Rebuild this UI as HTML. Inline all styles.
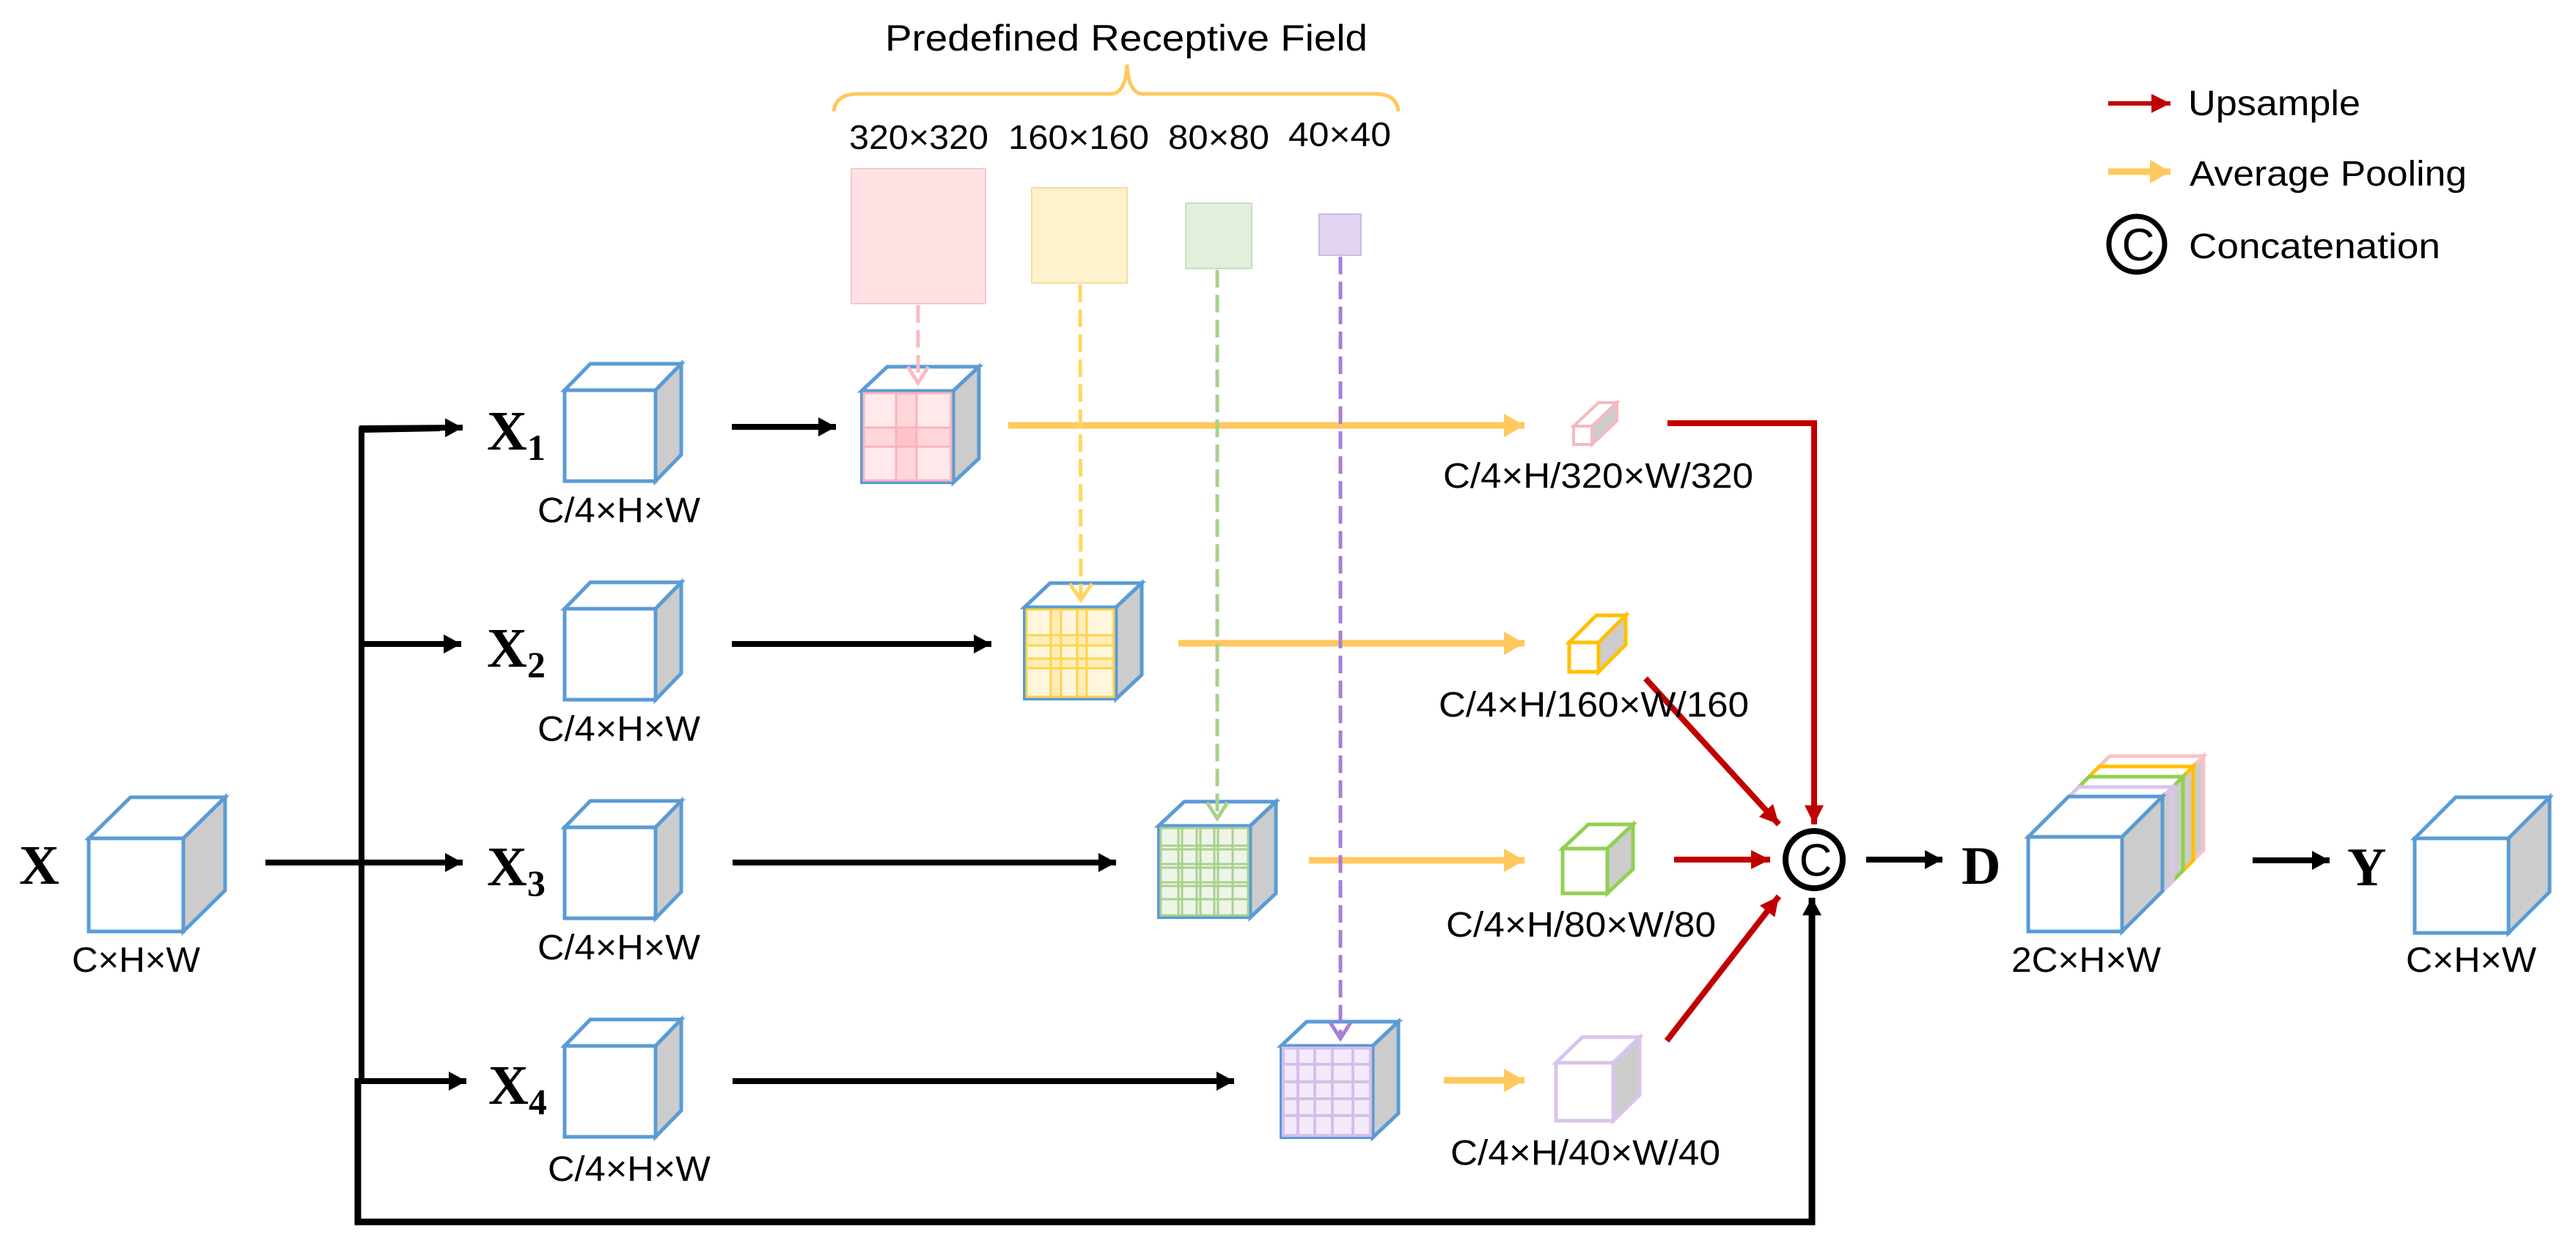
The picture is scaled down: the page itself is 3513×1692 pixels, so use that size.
<!DOCTYPE html>
<html><head><meta charset="utf-8"><style>
html,body{margin:0;padding:0;background:#fff;}
svg{display:block;}
text{font-family:"Liberation Sans",sans-serif;fill:#000;}
.serif{font-family:"Liberation Serif",serif;font-weight:bold;}
</style></head><body>
<svg width="3513" height="1692" viewBox="0 0 3513 1692" xmlns="http://www.w3.org/2000/svg">
<defs>
<marker id="ab" markerUnits="userSpaceOnUse" markerWidth="24" markerHeight="26" refX="24" refY="13" orient="auto"><path d="M0,0 L24,13 L0,26 z" fill="#000"/></marker>
<marker id="ay" markerUnits="userSpaceOnUse" markerWidth="28" markerHeight="32" refX="28" refY="16" orient="auto"><path d="M0,0 L28,16 L0,32 z" fill="#FFC85F"/></marker>
<marker id="ar" markerUnits="userSpaceOnUse" markerWidth="26" markerHeight="26" refX="26" refY="13" orient="auto"><path d="M0,0 L26,13 L0,26 z" fill="#C00000"/></marker>
</defs>
<g fill="none" stroke-linejoin="miter">

<path d="M1137,152 Q1140,128 1170,128 L1515,128 Q1535,128 1537,88 Q1539,128 1559,128 L1875,128 Q1905,128 1907,152" stroke="#FFC85F" stroke-width="5"/>

<rect x="1161" y="230" width="183" height="184" fill="#FFE1E4" stroke="#F6C7CB" stroke-width="2"/>
<rect x="1407" y="256" width="130" height="130" fill="#FFF2CC" stroke="#F2DDA0" stroke-width="2"/>
<rect x="1617" y="277" width="90" height="89" fill="#E2EFDA" stroke="#CADDBD" stroke-width="2"/>
<rect x="1799" y="292" width="57" height="56" fill="#E2D4F1" stroke="#CDB8E3" stroke-width="2"/>

<path d="M362,1176 L493,1176" stroke="#000" stroke-width="8"/>
<path d="M493,1474 L493,586 L600,584" stroke="#000" stroke-width="8"/>
<path d="M490,584 L631,583" stroke="#000" stroke-width="8" marker-end="url(#ab)"/>
<path d="M493,878 L629,878" stroke="#000" stroke-width="8" marker-end="url(#ab)"/>
<path d="M493,1176 L631,1176" stroke="#000" stroke-width="8" marker-end="url(#ab)"/>
<path d="M488,1474 L636,1474" stroke="#000" stroke-width="8" marker-end="url(#ab)"/>
<path d="M488,1470 L488,1666 L2471,1666 L2471,1224" stroke="#000" stroke-width="9" marker-end="url(#ab)"/>

<path d="M998,582 L1140,582" stroke="#000" stroke-width="8" marker-end="url(#ab)"/>
<path d="M998,878 L1352,878" stroke="#000" stroke-width="8" marker-end="url(#ab)"/>
<path d="M999,1176 L1522,1176" stroke="#000" stroke-width="8" marker-end="url(#ab)"/>
<path d="M999,1474 L1683,1474" stroke="#000" stroke-width="8" marker-end="url(#ab)"/>

<path d="M1375,580 L2079,580" stroke="#FFC85F" stroke-width="9" marker-end="url(#ay)"/>
<path d="M1607,877 L2079,877" stroke="#FFC85F" stroke-width="9" marker-end="url(#ay)"/>
<path d="M1785,1173 L2079,1173" stroke="#FFC85F" stroke-width="9" marker-end="url(#ay)"/>
<path d="M1969,1473 L2079,1473" stroke="#FFC85F" stroke-width="9" marker-end="url(#ay)"/>

<polygon points="121,1143 178,1087 307,1087 250,1143" fill="#fff" stroke="#5B9BD5" stroke-width="5"/>
<polygon points="250,1143 307,1087 307,1214 250,1270" fill="#CCCCCC" stroke="#5B9BD5" stroke-width="5"/>
<rect x="121" y="1143" width="129" height="127" fill="#fff" stroke="#5B9BD5" stroke-width="5"/>

<polygon points="770,532 805,496 929,496 894,532" fill="#fff" stroke="#5B9BD5" stroke-width="5"/>
<polygon points="894,532 929,496 929,620 894,656" fill="#CCCCCC" stroke="#5B9BD5" stroke-width="5"/>
<rect x="770" y="532" width="124" height="124" fill="#fff" stroke="#5B9BD5" stroke-width="5"/>
<polygon points="770,830 805,794 929,794 894,830" fill="#fff" stroke="#5B9BD5" stroke-width="5"/>
<polygon points="894,830 929,794 929,918 894,954" fill="#CCCCCC" stroke="#5B9BD5" stroke-width="5"/>
<rect x="770" y="830" width="124" height="124" fill="#fff" stroke="#5B9BD5" stroke-width="5"/>
<polygon points="770,1128 805,1092 929,1092 894,1128" fill="#fff" stroke="#5B9BD5" stroke-width="5"/>
<polygon points="894,1128 929,1092 929,1216 894,1252" fill="#CCCCCC" stroke="#5B9BD5" stroke-width="5"/>
<rect x="770" y="1128" width="124" height="124" fill="#fff" stroke="#5B9BD5" stroke-width="5"/>
<polygon points="770,1426 805,1390 929,1390 894,1426" fill="#fff" stroke="#5B9BD5" stroke-width="5"/>
<polygon points="894,1426 929,1390 929,1514 894,1550" fill="#CCCCCC" stroke="#5B9BD5" stroke-width="5"/>
<rect x="770" y="1426" width="124" height="124" fill="#fff" stroke="#5B9BD5" stroke-width="5"/>

<polygon points="1175,533 1210,500 1335,500 1300,533" fill="#fff" stroke="#5B9BD5" stroke-width="5"/>
<polygon points="1300,533 1335,500 1335,625 1300,658" fill="#CCCCCC" stroke="#5B9BD5" stroke-width="5"/>
<rect x="1175" y="533" width="125" height="125" fill="#FFE9EB" stroke="#5B9BD5" stroke-width="4"/>
<rect x="1222" y="536" width="28" height="119" fill="#FFD6DA"/>
<rect x="1178" y="583" width="119" height="26" fill="#FFD6DA"/>
<rect x="1222" y="583" width="28" height="26" fill="#FFC4C9"/>
<g stroke="#F8B4BC" stroke-width="3"><path d="M1222,536 V655 M1250,536 V655 M1178,583 H1297 M1178,609 H1297"/><rect x="1178" y="536" width="119" height="119"/></g>

<polygon points="1397,828 1432,795 1557,795 1522,828" fill="#fff" stroke="#5B9BD5" stroke-width="5"/>
<polygon points="1522,828 1557,795 1557,920 1522,953" fill="#CCCCCC" stroke="#5B9BD5" stroke-width="5"/>
<rect x="1397" y="828" width="125" height="125" fill="#FFF6DC" stroke="#5B9BD5" stroke-width="4"/>
<g fill="#FFEDB8"><rect x="1433" y="831" width="14" height="119"/><rect x="1469" y="831" width="13" height="119"/><rect x="1400" y="866" width="119" height="14"/><rect x="1400" y="898" width="119" height="13"/></g>
<g stroke="#FFD34D" stroke-width="3"><path d="M1433,831 V950 M1447,831 V950 M1469,831 V950 M1482,831 V950 M1400,866 H1519 M1400,880 H1519 M1400,898 H1519 M1400,911 H1519"/><rect x="1400" y="831" width="119" height="119"/></g>

<polygon points="1580,1126 1615,1093 1740,1093 1705,1126" fill="#fff" stroke="#5B9BD5" stroke-width="5"/>
<polygon points="1705,1126 1740,1093 1740,1218 1705,1251" fill="#CCCCCC" stroke="#5B9BD5" stroke-width="5"/>
<rect x="1580" y="1126" width="125" height="125" fill="#EEF5E8" stroke="#5B9BD5" stroke-width="4"/>
<g stroke="#A9D18E" stroke-width="3"><path d="M1607,1129 V1248 M1612,1129 V1248 M1632,1129 V1248 M1637,1129 V1248 M1656,1129 V1248 M1661,1129 V1248 M1681,1129 V1248 M1583,1153 H1702 M1583,1158 H1702 M1583,1178 H1702 M1583,1183 H1702 M1583,1203 H1702 M1583,1208 H1702 M1583,1226 H1702"/><rect x="1583" y="1129" width="119" height="119"/></g>

<polygon points="1747,1426 1782,1393 1907,1393 1872,1426" fill="#fff" stroke="#5B9BD5" stroke-width="5"/>
<polygon points="1872,1426 1907,1393 1907,1518 1872,1551" fill="#CCCCCC" stroke="#5B9BD5" stroke-width="5"/>
<rect x="1747" y="1426" width="125" height="125" fill="#F2EAFA" stroke="#5B9BD5" stroke-width="4"/>
<g stroke="#D8BDEB" stroke-width="4"><path d="M1770,1429 V1548 M1793,1429 V1548 M1817,1429 V1548 M1845,1429 V1548 M1750,1451 H1869 M1750,1475 H1869 M1750,1498 H1869 M1750,1521 H1869"/><rect x="1750" y="1429" width="119" height="119"/></g>

<!-- dashed (on top) -->
<path d="M1252,416 L1252,520" stroke="#F8BCC2" stroke-width="5" stroke-dasharray="24,10"/>
<path d="M1238,500 L1252,522 L1266,500" stroke="#F8BCC2" stroke-width="5"/>
<path d="M1473,388 L1474,814" stroke="#FFD75F" stroke-width="5" stroke-dasharray="24,10"/>
<path d="M1459,796 L1474,818 L1489,796" stroke="#FFD75F" stroke-width="5"/>
<path d="M1660,368 L1660,1112" stroke="#A9D18E" stroke-width="5" stroke-dasharray="24,10"/>
<path d="M1646,1094 L1660,1116 L1674,1094" stroke="#A9D18E" stroke-width="5"/>
<path d="M1828,350 L1828,1412" stroke="#A97CD8" stroke-width="5" stroke-dasharray="24,10"/>
<path d="M1814,1394 L1828,1416 L1842,1394" stroke="#A97CD8" stroke-width="5"/>

<polygon points="2146,581 2180,549 2205,549 2171,581" fill="#fff" stroke="#F6B9BE" stroke-width="4"/>
<polygon points="2171,581 2205,549 2205,574 2171,606" fill="#CCCCCC" stroke="#F6B9BE" stroke-width="4"/>
<rect x="2146" y="581" width="25" height="25" fill="#fff" stroke="#F6B9BE" stroke-width="4"/>

<polygon points="2140,876 2177,839 2217,839 2180,876" fill="#fff" stroke="#FFC000" stroke-width="5"/>
<polygon points="2180,876 2217,839 2217,879 2180,916" fill="#CCCCCC" stroke="#FFC000" stroke-width="5"/>
<rect x="2140" y="876" width="40" height="40" fill="#fff" stroke="#FFC000" stroke-width="5"/>

<polygon points="2131,1157 2166,1124 2227,1124 2192,1157" fill="#fff" stroke="#92D050" stroke-width="5"/>
<polygon points="2192,1157 2227,1124 2227,1185 2192,1218" fill="#CCCCCC" stroke="#92D050" stroke-width="5"/>
<rect x="2131" y="1157" width="61" height="61" fill="#fff" stroke="#92D050" stroke-width="5"/>

<polygon points="2122,1449 2158,1414 2236,1414 2200,1449" fill="#fff" stroke="#DAC4EA" stroke-width="5"/>
<polygon points="2200,1449 2236,1414 2236,1493 2200,1528" fill="#CCCCCC" stroke="#DAC4EA" stroke-width="5"/>
<rect x="2122" y="1449" width="78" height="79" fill="#fff" stroke="#DAC4EA" stroke-width="5"/>

<path d="M2274,577 L2474,577 L2474,1124" stroke="#C00000" stroke-width="8" marker-end="url(#ar)"/>
<path d="M2244,925 L2426,1124" stroke="#C00000" stroke-width="8" marker-end="url(#ar)"/>
<path d="M2283,1172 L2414,1172" stroke="#C00000" stroke-width="8" marker-end="url(#ar)"/>
<path d="M2273,1419 L2426,1222" stroke="#C00000" stroke-width="8" marker-end="url(#ar)"/>

<circle cx="2474" cy="1172" r="39" stroke="#000" stroke-width="8" fill="#fff"/>
<path d="M2545,1172 L2649,1172" stroke="#000" stroke-width="8" marker-end="url(#ab)"/>

<polygon points="2822,1086 2877,1031 3005,1031 2950,1086" fill="#fff" stroke="#F8C3C7" stroke-width="5"/>
<polygon points="2950,1086 3005,1031 3005,1159 2950,1214" fill="#CCCCCC" stroke="#F8C3C7" stroke-width="5"/>
<polygon points="2808,1100 2863,1045 2991,1045 2936,1100" fill="#fff" stroke="#FFC000" stroke-width="5"/>
<polygon points="2936,1100 2991,1045 2991,1173 2936,1228" fill="#CCCCCC" stroke="#FFC000" stroke-width="5"/>
<polygon points="2794,1114 2849,1059 2977,1059 2922,1114" fill="#fff" stroke="#92D050" stroke-width="5"/>
<polygon points="2922,1114 2977,1059 2977,1187 2922,1242" fill="#CCCCCC" stroke="#92D050" stroke-width="5"/>
<polygon points="2780,1128 2835,1073 2963,1073 2908,1128" fill="#fff" stroke="#DAC4EA" stroke-width="5"/>
<polygon points="2908,1128 2963,1073 2963,1201 2908,1256" fill="#CCCCCC" stroke="#DAC4EA" stroke-width="5"/>
<polygon points="2766,1141 2821,1086 2949,1086 2894,1141" fill="#fff" stroke="#5B9BD5" stroke-width="5"/>
<polygon points="2894,1141 2949,1086 2949,1215 2894,1270" fill="#CCCCCC" stroke="#5B9BD5" stroke-width="5"/>
<rect x="2766" y="1141" width="128" height="129" fill="#fff" stroke="#5B9BD5" stroke-width="5"/>

<path d="M3072,1173 L3177,1173" stroke="#000" stroke-width="8" marker-end="url(#ab)"/>

<polygon points="3293,1143 3349,1087 3477,1087 3421,1143" fill="#fff" stroke="#5B9BD5" stroke-width="5"/>
<polygon points="3421,1143 3477,1087 3477,1216 3421,1272" fill="#CCCCCC" stroke="#5B9BD5" stroke-width="5"/>
<rect x="3293" y="1143" width="128" height="129" fill="#fff" stroke="#5B9BD5" stroke-width="5"/>

<path d="M2875,141 L2960,141" stroke="#C00000" stroke-width="6" marker-end="url(#ar)"/>
<path d="M2875,234 L2960,234" stroke="#FFC85F" stroke-width="9" marker-end="url(#ay)"/>
<circle cx="2914" cy="333" r="38" stroke="#000" stroke-width="7" fill="#fff"/>
</g>

<text x="1207" y="69" font-size="50" textLength="658" lengthAdjust="spacingAndGlyphs">Predefined Receptive Field</text>
<text x="1158" y="203" font-size="46" textLength="190" lengthAdjust="spacingAndGlyphs">320×320</text>
<text x="1375" y="203" font-size="46" textLength="192" lengthAdjust="spacingAndGlyphs">160×160</text>
<text x="1593" y="203" font-size="46" textLength="138" lengthAdjust="spacingAndGlyphs">80×80</text>
<text x="1757" y="199" font-size="46" textLength="140" lengthAdjust="spacingAndGlyphs">40×40</text>

<text x="2984" y="157" font-size="48" textLength="235" lengthAdjust="spacingAndGlyphs">Upsample</text>
<text x="2986" y="253" font-size="48" textLength="378" lengthAdjust="spacingAndGlyphs">Average Pooling</text>
<text x="2985" y="352" font-size="48" textLength="343" lengthAdjust="spacingAndGlyphs">Concatenation</text>
<text x="2916" y="355" font-size="62" text-anchor="middle">C</text>
<text x="2476" y="1194" font-size="62" text-anchor="middle">C</text>

<text class="serif" x="26" y="1205" font-size="76">X</text>
<text class="serif" x="664" y="613" font-size="76">X<tspan font-size="50" dy="14">1</tspan></text>
<text class="serif" x="664" y="909" font-size="76">X<tspan font-size="50" dy="14">2</tspan></text>
<text class="serif" x="664" y="1207" font-size="76">X<tspan font-size="50" dy="14">3</tspan></text>
<text class="serif" x="666" y="1505" font-size="76">X<tspan font-size="50" dy="14">4</tspan></text>
<text class="serif" x="2675" y="1205" font-size="74">D</text>
<text class="serif" x="3201" y="1207" font-size="74">Y</text>

<text x="98" y="1325" font-size="48" textLength="175" lengthAdjust="spacingAndGlyphs">C×H×W</text>
<text x="733" y="712" font-size="48" textLength="222" lengthAdjust="spacingAndGlyphs">C/4×H×W</text>
<text x="733" y="1010" font-size="48" textLength="222" lengthAdjust="spacingAndGlyphs">C/4×H×W</text>
<text x="733" y="1308" font-size="48" textLength="222" lengthAdjust="spacingAndGlyphs">C/4×H×W</text>
<text x="747" y="1610" font-size="48" textLength="222" lengthAdjust="spacingAndGlyphs">C/4×H×W</text>
<text x="1968" y="665" font-size="48" textLength="423" lengthAdjust="spacingAndGlyphs">C/4×H/320×W/320</text>
<text x="1962" y="977" font-size="48" textLength="423" lengthAdjust="spacingAndGlyphs">C/4×H/160×W/160</text>
<text x="1972" y="1277" font-size="48" textLength="368" lengthAdjust="spacingAndGlyphs">C/4×H/80×W/80</text>
<text x="1978" y="1588" font-size="48" textLength="368" lengthAdjust="spacingAndGlyphs">C/4×H/40×W/40</text>
<text x="2743" y="1325" font-size="48" textLength="204" lengthAdjust="spacingAndGlyphs">2C×H×W</text>
<text x="3281" y="1325" font-size="48" textLength="178" lengthAdjust="spacingAndGlyphs">C×H×W</text>
</svg>
</body></html>
